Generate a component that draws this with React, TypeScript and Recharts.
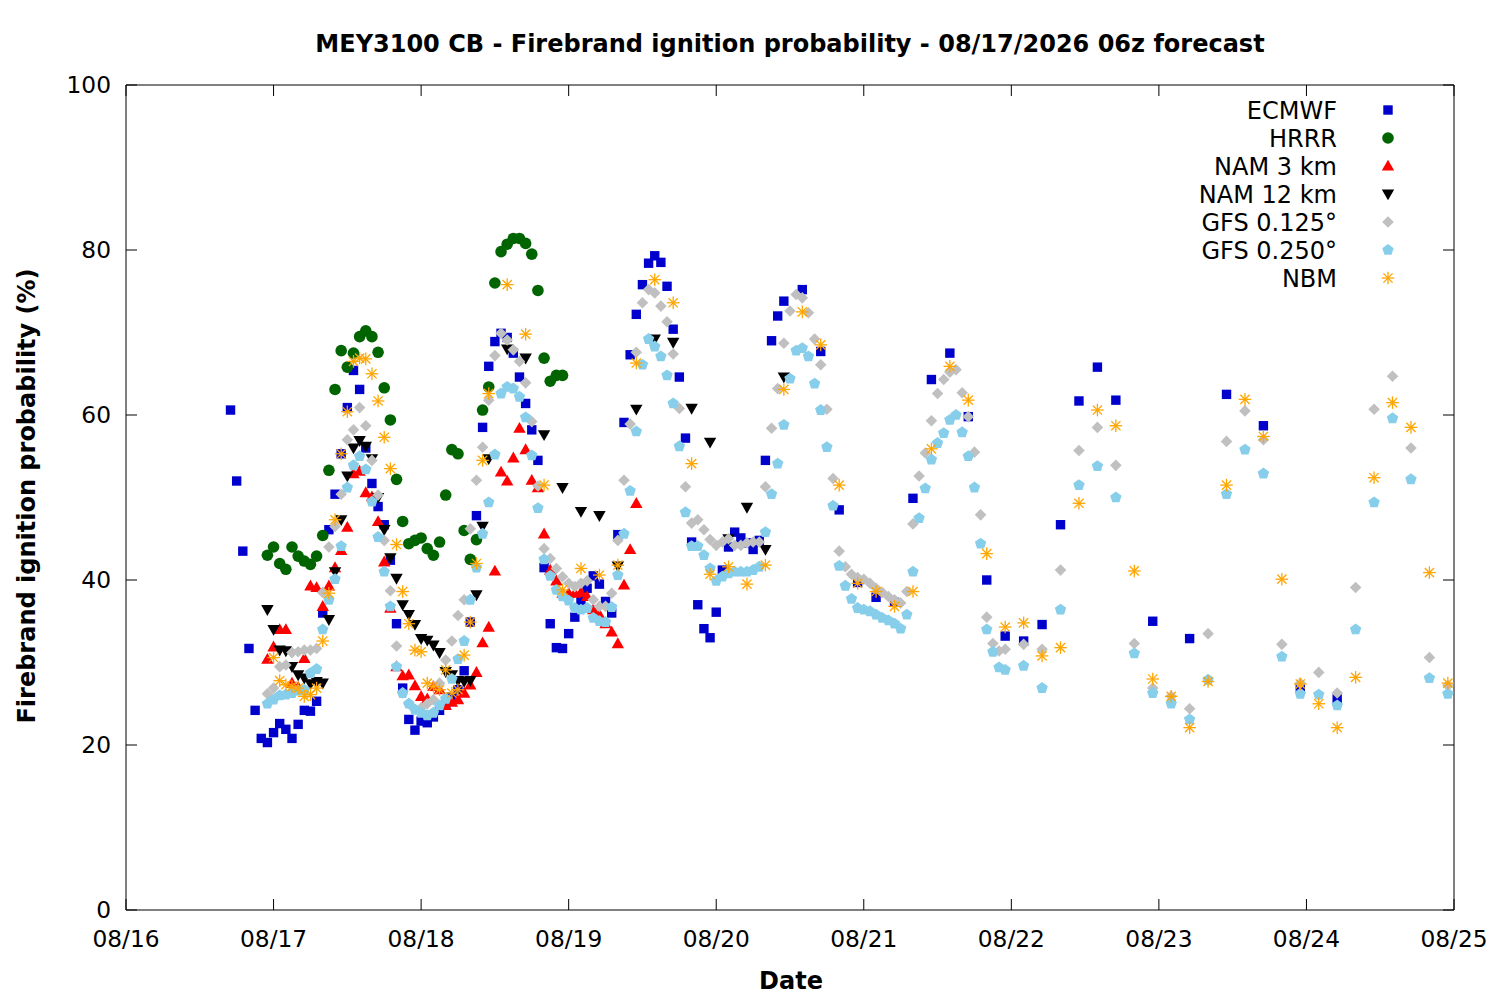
import React from "react";
import { ScatterChart, Scatter, XAxis, YAxis, ReferenceArea } from "recharts";

const FONT = "'DejaVu Sans', sans-serif";
const PLOT = { left: 126, right: 1454, top: 85, bottom: 910 };

// x values are hours after 08/16 00z
const dayTicks = [0, 24, 48, 72, 96, 120, 144, 168, 192, 216];
const dayLabels = ["08/16", "08/17", "08/18", "08/19", "08/20", "08/21", "08/22", "08/23", "08/24", "08/25"];
const yTicks = [0, 20, 40, 60, 80, 100];

const steps = (from: number, to: number, by: number) =>
  Array.from({ length: Math.floor((to - from) / by) + 1 }, (_, i) => from + i * by);

const ecmwfHours = [...steps(17, 107, 1), ...steps(110, 161, 3), ...steps(167, 197, 6)];
const ecmwfVals = [
  60.6, 52.0, 43.5, 31.7, 24.2, 20.8, 20.3, 21.5, 22.6, 21.9,
  20.8, 22.5, 24.2, 24.1, 25.3, 36.0, 46.1, 50.4, 55.3, 60.9,
  65.4, 63.1, 56.0, 51.7, 48.9, 46.7, 42.4, 34.7, 26.9, 23.1,
  21.8, 22.9, 22.7, 23.4, 24.2, 25.0, 25.8, 26.7, 29.0, 34.9,
  47.8, 58.5, 65.9, 68.9, 69.9, 69.4, 67.5, 64.6, 61.4, 58.2,
  54.5, 41.5, 34.7, 31.8, 31.7, 33.5, 35.5, 37.4, 39.0, 40.5,
  39.5, 37.4, 36.0, 45.5, 59.1, 67.3, 72.2, 75.8, 78.4, 79.3,
  78.5, 75.6, 70.4, 64.6, 57.2, 44.6, 37.0, 34.1, 33.0, 36.1,
  41.2, 44.0, 45.8, 45.1, 44.5, 43.7, 44.8, 54.5, 69.0, 72.0,
  73.8,
  75.2, 67.7, 48.5, 39.7, 37.9, 37.3, 49.9, 64.3, 67.5, 59.8,
  40.0, 33.2, 32.6, 34.6, 46.7, 61.7, 65.8, 61.8,
  35.0, 32.9, 62.5, 58.7, 26.9, 25.6,
];

const hrrrHours = steps(23, 71, 1);
const hrrrVals = [
  43.0, 44.0, 42.0, 41.3, 44.0, 42.9, 42.3, 41.9, 42.9, 45.4,
  53.3, 63.1, 67.8, 65.8, 67.5, 69.5, 70.2, 69.5, 67.6, 63.3,
  59.4, 52.2, 47.1, 44.4, 44.8, 45.1, 43.8, 43.0, 44.6, 50.3,
  55.8, 55.3, 46.0, 42.5, 44.9, 60.6, 63.4, 76.0, 79.8, 80.7,
  81.4, 81.4, 80.8, 79.5, 75.1, 66.9, 64.1, 64.8, 64.8,
];

const nam3Hours = steps(23, 83, 1);
const nam3Vals = [
  30.4, 31.9, 34.0, 34.0, 27.5, 27.0, 30.5, 39.3, 39.1, 36.8,
  39.3, 41.5, 43.6, 46.4, 52.9, 53.2, 50.6, 50.1, 47.1, 42.2,
  36.6, 29.5, 28.4, 28.5, 27.2, 25.9, 25.6, 27.1, 26.7, 24.8,
  25.2, 25.5, 26.3, 27.3, 28.8, 32.4, 34.3, 41.1, 53.1, 52.0,
  54.8, 58.4, 55.8, 52.1, 51.2, 45.6, 41.2, 39.9, 38.4, 38.4,
  38.4, 38.5, 38.0, 36.4, 35.8, 34.7, 33.7, 32.3, 39.4, 43.7,
  49.3,
];

const nam12Hours = [...steps(23, 59, 1), ...steps(62, 107, 3)];
const nam12Vals = [
  36.4, 34.0, 31.5, 31.4, 29.5, 28.5, 28.1, 27.4, 27.7, 27.5,
  35.2, 41.0, 47.3, 52.6, 56.0, 56.9, 56.2, 54.7, 50.0, 46.1,
  42.7, 40.2, 37.0, 35.8, 34.6, 32.9, 32.7, 32.1, 31.2, 28.9,
  28.5, 27.8, 27.7, 27.8, 38.2, 46.5, 54.7,
  68.0, 66.9, 57.6, 51.2, 48.3, 47.8, 41.7, 60.7, 69.2, 68.8,
  60.8, 56.7, 45.0, 48.8, 43.7, 64.6,
];

const gfsHours = [...steps(23, 143, 1), ...steps(146, 215, 3)];
const gfs125Vals = [
  26.2, 26.9, 29.5, 29.7, 31.2, 31.3, 31.5, 31.5, 31.7, 38.5,
  44.0, 46.5, 50.4, 57.0, 58.2, 60.9, 58.7, 54.5, 50.3, 44.8,
  38.7, 32.0, 26.3, 25.0, 24.3, 24.5, 25.0, 25.5, 27.5, 30.3,
  32.6, 35.7, 37.6, 46.2, 52.1, 56.1, 61.8, 67.2, 69.9, 69.1,
  67.9, 66.5, 63.9, 59.2, 51.4, 43.8, 42.6, 41.4, 40.4, 39.6,
  39.2, 39.6, 39.9, 37.6, 36.8, 36.8, 38.4, 44.8, 52.1, 58.9,
  67.6, 73.6, 75.2, 74.8, 73.2, 71.3, 67.4, 60.8, 51.3, 46.9,
  47.3, 46.1, 44.9, 44.2, 44.6, 45.0, 44.2, 44.2, 44.5, 44.6,
  44.6, 51.3, 58.4, 63.2, 68.7, 72.6, 74.6, 74.2, 72.4, 69.2,
  66.1, 60.7, 52.3, 43.5, 41.6, 40.7, 40.3, 40.1, 39.6, 39.0,
  38.5, 38.0, 37.6, 37.2, 38.6, 46.8, 52.6, 55.4, 59.3, 62.6,
  64.3, 65.2, 65.5, 62.7, 59.8, 55.5, 47.9, 35.5, 32.3, 31.4,
  31.6,
  32.2, 31.6, 41.2, 55.7, 58.5, 53.9, 32.3, 26.9, 25.9, 24.4,
  33.5, 56.8, 60.5, 57.0, 32.2, 27.5, 28.8, 26.3, 39.1, 60.7,
  64.7, 56.0, 30.6, 27.2,
];
const gfs250Vals = [
  25.0, 25.5, 26.0, 26.1, 26.3, 26.6, 26.7, 28.7, 29.2, 34.0,
  37.6, 40.1, 44.1, 51.2, 53.9, 55.0, 53.4, 49.5, 45.2, 41.0,
  36.8, 29.5, 26.3, 25.0, 24.3, 23.9, 23.6, 23.9, 24.8, 25.6,
  28.0, 30.4, 32.6, 37.6, 41.5, 45.6, 49.4, 55.2, 62.6, 63.4,
  63.2, 62.2, 59.7, 55.1, 48.7, 42.5, 40.5, 38.8, 38.0, 37.5,
  36.6, 36.4, 36.6, 35.4, 35.0, 34.9, 36.7, 40.6, 45.6, 50.8,
  58.0, 66.1, 69.2, 68.3, 67.1, 64.8, 61.4, 56.2, 48.2, 44.1,
  44.1, 43.0, 41.4, 39.9, 40.4, 40.8, 41.0, 41.0, 41.0, 41.2,
  41.6, 45.8, 50.4, 54.1, 58.8, 64.4, 67.8, 68.1, 67.1, 63.8,
  60.6, 56.1, 49.0, 41.7, 39.3, 37.7, 36.6, 36.4, 36.2, 35.8,
  35.4, 35.1, 34.7, 34.1, 35.8, 41.0, 47.5, 51.1, 54.6, 56.6,
  57.8, 59.4, 60.0, 57.9, 55.0, 51.2, 44.4, 34.0, 31.3, 29.4,
  29.1,
  29.6, 26.9, 36.4, 51.5, 53.8, 50.0, 31.1, 26.3, 25.0, 23.1,
  27.9, 50.4, 55.8, 52.9, 30.7, 26.2, 26.1, 24.8, 34.0, 49.4,
  59.6, 52.2, 28.1, 26.2,
];

const nbmHours = [...steps(24, 59, 1), ...steps(62, 215, 3)];
const nbmVals = [
  30.6, 27.8, 27.3, 27.1, 26.9, 25.9, 26.1, 26.9, 32.6, 38.4,
  47.3, 55.3, 60.4, 66.5, 66.9, 66.8, 65.0, 61.7, 57.3, 53.5,
  44.3, 38.6, 34.7, 31.5, 31.3, 27.5, 27.1, 26.7, 29.1, 26.3,
  26.7, 30.9, 34.9, 42.0, 54.5, 62.6,
  75.8, 69.8, 51.5, 38.8, 41.4, 40.6, 41.8, 66.3, 76.4, 73.6,
  54.1, 40.7, 41.6, 39.5, 41.8, 63.1, 72.5, 68.5, 51.5, 39.6,
  38.6, 36.8, 38.6, 55.9, 65.9, 61.8, 43.2, 34.3, 34.8, 30.8,
  31.8, 49.3, 60.6, 58.7, 41.1, 28.0, 25.9, 22.1, 27.7, 51.5,
  61.9, 57.4, 40.1, 27.4, 25.0, 22.1, 28.2, 52.4, 61.5, 58.5,
  40.9, 27.5,
];

const pts = (hours: number[], vals: number[]) => vals.map((v, i) => ({ x: hours[i], y: v }));

type Kind = "square" | "circle" | "up" | "down" | "diamond" | "pentagon" | "star";

const series: { name: string; kind: Kind; color: string; data: { x: number; y: number }[] }[] = [
  { name: "ECMWF", kind: "square", color: "#0000cc", data: pts(ecmwfHours, ecmwfVals) },
  { name: "HRRR", kind: "circle", color: "#006400", data: pts(hrrrHours, hrrrVals) },
  { name: "NAM 3 km", kind: "up", color: "#ff0000", data: pts(nam3Hours, nam3Vals) },
  { name: "NAM 12 km", kind: "down", color: "#000000", data: pts(nam12Hours, nam12Vals) },
  { name: "GFS 0.125°", kind: "diamond", color: "#c0c0c0", data: pts(gfsHours, gfs125Vals) },
  { name: "GFS 0.250°", kind: "pentagon", color: "#87ceeb", data: pts(gfsHours, gfs250Vals) },
  { name: "NBM", kind: "star", color: "#ffa500", data: pts(nbmHours, nbmVals) },
];

function Marker({ kind, color, cx, cy }: { kind: Kind; color: string; cx: number; cy: number }) {
  switch (kind) {
    case "square":
      return <rect x={cx - 4.7} y={cy - 4.7} width={9.4} height={9.4} fill={color} />;
    case "circle":
      return <circle cx={cx} cy={cy} r={5.8} fill={color} />;
    case "up":
      return <polygon points={`${cx},${cy - 6.3} ${cx - 6.2},${cy + 4.6} ${cx + 6.2},${cy + 4.6}`} fill={color} />;
    case "down":
      return <polygon points={`${cx},${cy + 6.3} ${cx - 6.2},${cy - 4.6} ${cx + 6.2},${cy - 4.6}`} fill={color} />;
    case "diamond":
      return <polygon points={`${cx},${cy - 5.8} ${cx + 5.8},${cy} ${cx},${cy + 5.8} ${cx - 5.8},${cy}`} fill={color} />;
    case "pentagon": {
      const p = [0, 1, 2, 3, 4]
        .map((i) => {
          const a = -Math.PI / 2 + (i * 2 * Math.PI) / 5;
          return `${cx + 6 * Math.cos(a)},${cy + 6 * Math.sin(a)}`;
        })
        .join(" ");
      return <polygon points={p} fill={color} />;
    }
    default:
      return (
        <g stroke={color} strokeWidth={1.3}>
          <line x1={cx - 6.3} y1={cy} x2={cx + 6.3} y2={cy} />
          <line x1={cx} y1={cy - 6.3} x2={cx} y2={cy + 6.3} />
          <line x1={cx - 4.6} y1={cy - 4.6} x2={cx + 4.6} y2={cy + 4.6} />
          <line x1={cx - 4.6} y1={cy + 4.6} x2={cx + 4.6} y2={cy - 4.6} />
        </g>
      );
  }
}

const XTick = (props: any) => {
  const { x, payload } = props;
  const i = dayTicks.indexOf(payload.value);
  return (
    <g>
      <line x1={x} x2={x} y1={PLOT.bottom} y2={PLOT.bottom - 11} stroke="#000" />
      <line x1={x} x2={x} y1={PLOT.top} y2={PLOT.top + 11} stroke="#000" />
      <text x={x} y={947} textAnchor="middle" fontFamily={FONT} fontSize={23.3} fill="#000">
        {dayLabels[i]}
      </text>
    </g>
  );
};

const YTick = (props: any) => {
  const { y, payload } = props;
  return (
    <g>
      <line x1={PLOT.left} x2={PLOT.left + 11} y1={y} y2={y} stroke="#000" />
      <line x1={PLOT.right - 11} x2={PLOT.right} y1={y} y2={y} stroke="#000" />
      <text x={111} y={y + 8} textAnchor="end" fontFamily={FONT} fontSize={23.3} fill="#000">
        {payload.value}
      </text>
    </g>
  );
};

export default function App() {
  return (
    <div style={{ position: "absolute", left: 0, top: 0, width: 1500, height: 1000, background: "#fff" }}>
      <ScatterChart
        width={1500}
        height={1000}
        margin={{ top: PLOT.top, right: 1500 - PLOT.right, bottom: 0, left: 0 }}
      >
        <XAxis
          type="number"
          dataKey="x"
          domain={[0, 216]}
          ticks={dayTicks}
          interval={0}
          height={1000 - PLOT.bottom}
          tick={<XTick />}
          tickLine={false}
          axisLine={false}
          allowDataOverflow
        />
        <YAxis
          type="number"
          dataKey="y"
          domain={[0, 100]}
          ticks={yTicks}
          interval={0}
          width={PLOT.left}
          tick={<YTick />}
          tickLine={false}
          axisLine={false}
          allowDataOverflow
        />
        <ReferenceArea x1={0} x2={216} y1={0} y2={100} fill="none" stroke="#000" strokeWidth={1} ifOverflow="visible" />
        {series.map((s) => (
          <Scatter
            key={s.name}
            name={s.name}
            data={s.data}
            fill={s.color}
            isAnimationActive={false}
            shape={(p: any) => <Marker kind={s.kind} color={s.color} cx={p.cx} cy={p.cy} />}
          />
        ))}
      </ScatterChart>
      <svg
        width={1500}
        height={1000}
        style={{ position: "absolute", left: 0, top: 0, pointerEvents: "none" }}
      >
        <text x={790} y={52} textAnchor="middle" fontFamily={FONT} fontSize={24} fontWeight="bold">
          MEY3100 CB - Firebrand ignition probability - 08/17/2026 06z forecast
        </text>
        <text x={791} y={989} textAnchor="middle" fontFamily={FONT} fontSize={24} fontWeight="bold">
          Date
        </text>
        <text
          x={0}
          y={0}
          transform="translate(35,496) rotate(-90)"
          textAnchor="middle"
          fontFamily={FONT}
          fontSize={24}
          fontWeight="bold"
        >
          Firebrand ignition probability (%)
        </text>
        {series.map((s, i) => {
          const cy = 110 + i * 28;
          return (
            <g key={s.name}>
              <text x={1337} y={cy + 8.5} textAnchor="end" fontFamily={FONT} fontSize={24}>
                {s.name}
              </text>
              <Marker kind={s.kind} color={s.color} cx={1388} cy={cy} />
            </g>
          );
        })}
      </svg>
    </div>
  );
}
